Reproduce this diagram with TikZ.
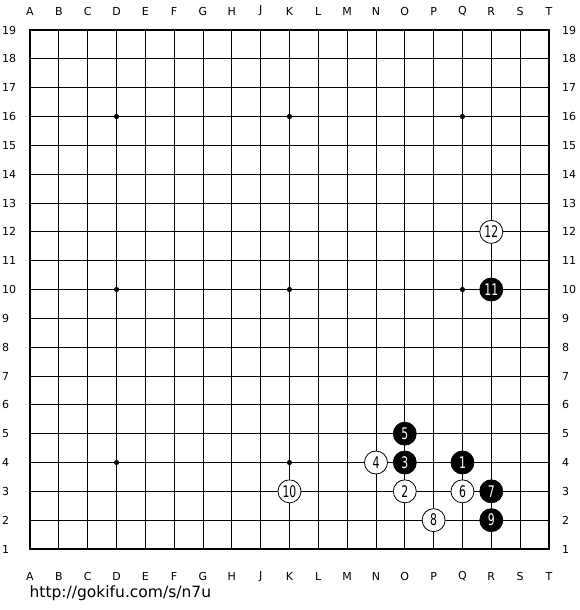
\documentclass[tikz,border=0pt]{standalone}
\usepackage{fontspec}
\usepackage{graphicx}
\setmainfont{DejaVu Sans}
\usetikzlibrary{calc}

\newcommand{\stonenum}[1]{\scalebox{0.68}[1]{#1}}

\tikzset{
  black stone/.style={circle, fill=black, draw=black, line width=0.8pt,
    minimum size=23pt, inner sep=0pt, text=white, font=\fontsize{16}{16}\selectfont},
  white stone/.style={circle, fill=white, draw=black, line width=0.8pt,
    minimum size=23pt, inner sep=0pt, text=black, font=\fontsize{16}{16}\selectfont},
  coordlabel/.style={font=\fontsize{11}{11}\selectfont, inner sep=0pt},
}

\begin{document}
\begin{tikzpicture}[x=28.83pt, y=28.83pt, line cap=rect]

\useasboundingbox (-1.0406,-2.116) rectangle (19.077,19.042);
\fill[white] (-1.0406,-2.116) rectangle (19.077,19.042);

%==================================================
% Board grid
%==================================================
\foreach \i in {1,...,17}{
  \draw[line width=0.8pt] (\i,0) -- (\i,18);
  \draw[line width=0.8pt] (0,\i) -- (18,\i);
}
\draw[line width=1.8pt] (0,0) rectangle (18,18);

% Star points
\foreach \x in {3,9,15}{
  \foreach \y in {3,9,15}{
    \fill[black] (\x,\y) circle (2.6pt);
  }
}

%==================================================
% Coordinate labels
%==================================================
\foreach \c [count=\i from 0] in {A,B,C,D,E,F,G,H,J,K,L,M,N,O,P,Q,R,S,T}{
  \node[coordlabel] (top\c) at (\i,18.66) {\c};
  \node[coordlabel] (bot\c) at (\i,-0.955) {\c};
}
\foreach \n in {1,...,19}{
  \node[coordlabel, anchor=west] (left\n) at (-0.97,\n-1) {\n};
  \node[coordlabel, anchor=west] (right\n) at (18.45,\n-1) {\n};
}

%==================================================
% Stones (move order)
%==================================================
\node[black stone] (s1)  at (15,3)  {\stonenum{1}};
\node[white stone] (s2)  at (13,2)  {\stonenum{2}};
\node[black stone] (s3)  at (13,3)  {\stonenum{3}};
\node[white stone] (s4)  at (12,3)  {\stonenum{4}};
\node[black stone] (s5)  at (13,4)  {\stonenum{5}};
\node[white stone] (s6)  at (15,2)  {\stonenum{6}};
\node[black stone] (s7)  at (16,2)  {\stonenum{7}};
\node[white stone] (s8)  at (14,1)  {\stonenum{8}};
\node[black stone] (s9)  at (16,1)  {\stonenum{9}};
\node[white stone] (s10) at (9,2)   {\stonenum{10}};
\node[black stone] (s11) at (16,9)  {\stonenum{11}};
\node[white stone] (s12) at (16,11) {\stonenum{12}};

% Source
\node[anchor=west, inner sep=0pt, font=\fontsize{15.5}{15.5}\selectfont] (url)
  at (-0.02,-1.53) {http://gokifu.com/s/n7u};

\end{tikzpicture}
\end{document}
